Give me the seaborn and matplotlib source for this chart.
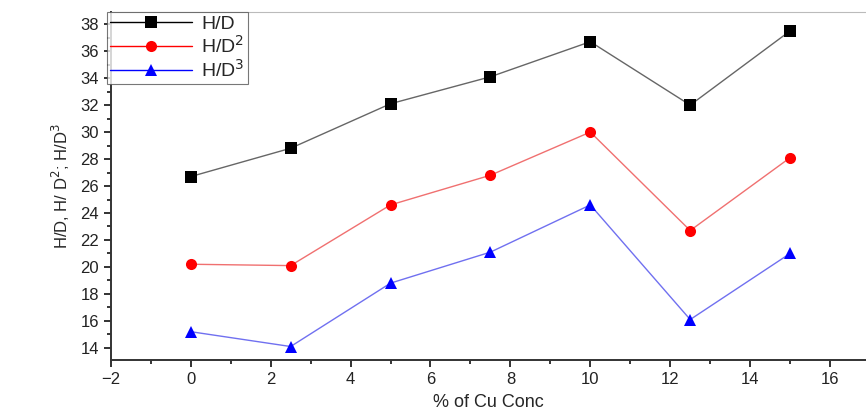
import numpy as np
import pandas as pd
import matplotlib
matplotlib.use("Agg")
import matplotlib.pyplot as plt
import seaborn as sns
from matplotlib.ticker import MultipleLocator

cu_conc = [0, 2.5, 5, 7.5, 10, 12.5, 15]
h_d = [26.7, 28.8, 32.1, 34.1, 36.7, 32.0, 37.5]
h_d2 = [20.2, 20.1, 24.6, 26.8, 30.0, 22.7, 28.1]
h_d3 = [15.2, 14.1, 18.8, 21.1, 24.6, 16.1, 21.0]
series_names = ["H/D", "H/D$^2$", "H/D$^3$"]

sns.set_style("ticks")
plt.rcParams['font.family'] = ['Liberation Sans', 'DejaVu Sans']

df = pd.DataFrame({
    "x": cu_conc * 3,
    "y": h_d + h_d2 + h_d3,
    "series": [series_names[0]] * 7 + [series_names[1]] * 7 + [series_names[2]] * 7,
})

fig = plt.figure(figsize=(8.66, 4.15), dpi=100)
ax = fig.add_axes([0.128, 0.1325, 0.872, 0.8385])

palette = {series_names[0]: "#000000", series_names[1]: "#ff0000", series_names[2]: "#0000ff"}
line_colors = {series_names[0]: "#666666", series_names[1]: "#f07070", series_names[2]: "#7070f0"}
markers = {series_names[0]: "s", series_names[1]: "o", series_names[2]: "^"}
sns.lineplot(data=df, x="x", y="y", hue="series", style="series", palette=palette,
             markers=markers, dashes=False, ax=ax, linewidth=1.0, markersize=8,
             markeredgewidth=0, legend=True)

for line, name in zip(ax.lines, series_names):
    c = palette[name]
    line.set_markerfacecolor(c)
    line.set_markeredgecolor(c)
    line.set_color(line_colors[name])
    line.set_alpha(1)

ax.set_xlim(-2, 16.9)
ax.set_ylim(13.1, 38.9)
ax.xaxis.set_major_locator(MultipleLocator(2))
ax.xaxis.set_minor_locator(MultipleLocator(1))
ax.yaxis.set_major_locator(MultipleLocator(2))
ax.yaxis.set_minor_locator(MultipleLocator(1))
ax.tick_params(which="major", direction="out", length=5, width=1.3, labelsize=12, colors="#222222")
ax.tick_params(which="minor", direction="out", length=3, width=1.3)
for s in ["left", "bottom"]:
    ax.spines[s].set_linewidth(1.4)
    ax.spines[s].set_color("#333333")
ax.spines["top"].set_color("#bbbbbb")
ax.spines["top"].set_linewidth(0.8)
ax.spines["right"].set_visible(False)

ax.set_xlabel("% of Cu Conc", fontsize=13, labelpad=5)
ax.set_ylabel("H/D, H/ D$^2$; H/D$^3$", fontsize=12, labelpad=6)

leg = ax.legend(loc="upper left", bbox_to_anchor=(-0.005, 1.0), fontsize=14, frameon=True,
                fancybox=False, edgecolor="#555555", borderpad=0.15, labelspacing=0.12,
                handlelength=4.2, handletextpad=0.5, borderaxespad=0)
leg.get_frame().set_linewidth(0.8)

fig.savefig("out.png", dpi=100)
